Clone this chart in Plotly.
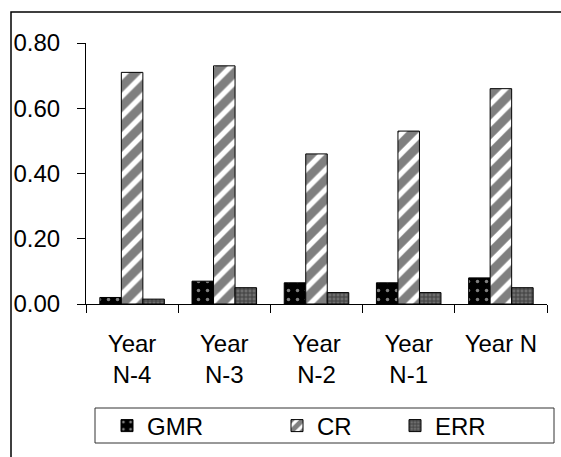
import plotly.graph_objects as go

categories = ["Year<br>N-4", "Year<br>N-3", "Year<br>N-2", "Year<br>N-1", "Year N"]
gmr = [0.02, 0.07, 0.065, 0.065, 0.08]
cr = [0.71, 0.73, 0.46, 0.53, 0.66]
err = [0.015, 0.05, 0.035, 0.035, 0.05]
y_ticks = [0.0, 0.2, 0.4, 0.6, 0.8]
y_tick_labels = ["0.00", "0.20", "0.40", "0.60", "0.80"]

FONT = "Liberation Sans, Arial, sans-serif"
FS = 24

fig = go.Figure()
fig.add_trace(go.Bar(
    x=categories, y=gmr, name="GMR", legend="legend",
    marker=dict(color="black", line=dict(color="black", width=1),
                pattern=dict(shape=".", fgcolor="white", bgcolor="black",
                             size=9, solidity=0.12)),
))
fig.add_trace(go.Bar(
    x=categories, y=cr, name="CR", legend="legend2",
    marker=dict(color="white", line=dict(color="black", width=1),
                pattern=dict(shape="/", fgcolor="black", bgcolor="white",
                             size=14, solidity=0.62)),
))
fig.add_trace(go.Bar(
    x=categories, y=err, name="ERR", legend="legend3",
    marker=dict(color="#555", line=dict(color="black", width=1),
                pattern=dict(shape="+", fgcolor="#111", bgcolor="#6e6e6e",
                             size=4, solidity=0.45)),
))

W, H = 561, 457
L, R, T, B = 86, 14, 43, 153
pw, ph = W - L - R, H - T - B

def px_x(x):
    return (x - L) / pw

def px_y(y):
    return (H - B - y) / ph

legend_common = dict(orientation="h", yanchor="middle", xanchor="left",
                     font=dict(family=FONT, size=FS, color="black"),
                     bgcolor="rgba(0,0,0,0)", borderwidth=0,
                     itemwidth=30)
leg_y = px_y(426)

fig.update_layout(
    width=W, height=H,
    margin=dict(l=L, r=R, t=T, b=B, autoexpand=False),
    paper_bgcolor="white", plot_bgcolor="white",
    barmode="group", bargap=0.30, bargroupgap=0,
    showlegend=True,
    font=dict(family=FONT, size=FS, color="black"),
    legend=dict(x=px_x(107), y=leg_y, **legend_common),
    legend2=dict(x=px_x(277), y=leg_y, **legend_common),
    legend3=dict(x=px_x(395), y=leg_y, **legend_common),
    xaxis=dict(
        type="category", showline=True, linecolor="black", linewidth=1,
        ticks="outside", tickson="boundaries", ticklen=8, tickcolor="black",
        showgrid=False, tickfont=dict(family=FONT, size=FS, color="black"),
        automargin=False, ticklabelstandoff=18,
    ),
    yaxis=dict(
        range=[0, 0.8], tickvals=y_ticks, ticktext=y_tick_labels,
        showline=True, linecolor="black", linewidth=1,
        ticks="outside", ticklen=8, tickcolor="black",
        showgrid=False, zeroline=False, automargin=False,
        ticklabelstandoff=12,
        tickfont=dict(family=FONT, size=FS, color="black"),
    ),
    shapes=[
        dict(type="rect", xref="paper", yref="paper",
             x0=px_x(11), x1=px_x(600), y0=px_y(480), y1=px_y(12),
             line=dict(color="black", width=1.5), fillcolor="rgba(0,0,0,0)",
             layer="below"),
        dict(type="rect", xref="paper", yref="paper",
             x0=px_x(95), x1=px_x(554), y0=px_y(443), y1=px_y(408),
             line=dict(color="#333", width=1), fillcolor="rgba(0,0,0,0)"),
    ],
)

fig.write_html(
    "out.html",
    config={"displayModeBar": False},
    post_script="document.body.style.margin='0px';document.body.style.overflow='hidden';",
)
